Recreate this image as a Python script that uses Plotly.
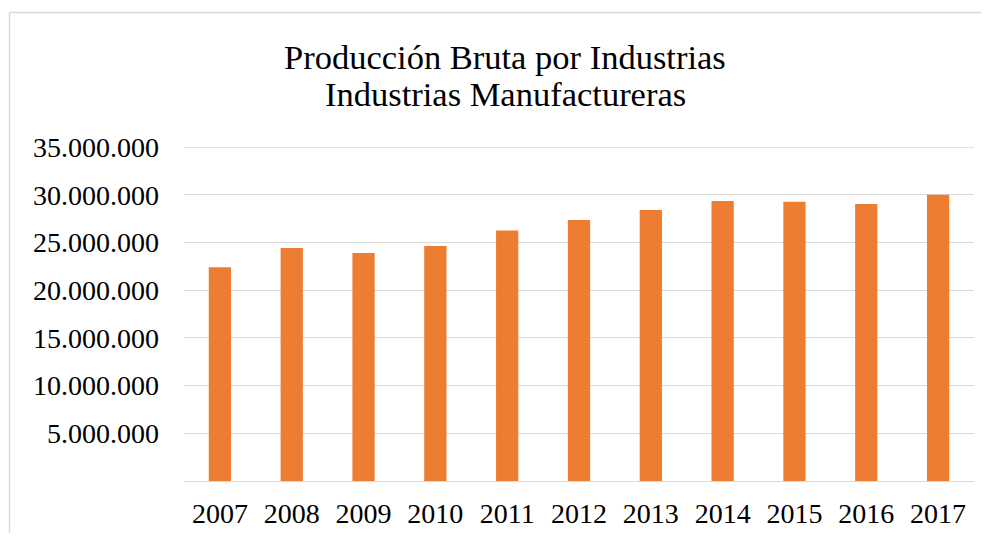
import plotly.graph_objects as go

years = ["2007", "2008", "2009", "2010", "2011", "2012", "2013", "2014", "2015", "2016", "2017"]
values = [22410000, 24410000, 23880000, 24620000, 26250000, 27340000, 28390000, 29340000, 29260000, 29020000, 30000000]
y_tickvals = [5000000, 10000000, 15000000, 20000000, 25000000, 30000000, 35000000]
y_ticktext = ["5.000.000", "10.000.000", "15.000.000", "20.000.000", "25.000.000", "30.000.000", "35.000.000"]
title_lines = ["Producción Bruta por Industrias", "Industrias Manufactureras"]

OFF = 8  # browser body margin
W, H = 989 - 2 * OFF, 541 - 2 * OFF
L, T = 184 - OFF, 147 - OFF
R = W - (974 - OFF)
B = H - (481 - OFF)
pw, ph = W - L - R, H - T - B

SERIF = "Liberation Serif, Times New Roman, serif"
GRID = "#d9d9d9"

fig = go.Figure(go.Bar(x=years, y=values, marker=dict(color="#ED7D31", line=dict(width=0))))

annotations = []
for line, mid_px in zip(title_lines, [57.5, 94.5]):
    annotations.append(dict(
        text=line, showarrow=False,
        xref="paper", yref="paper",
        x=(505 - 184) / pw, xanchor="center",
        y=(481 - mid_px) / ph, yanchor="middle",
        font=dict(size=34.5, family=SERIF, color="#000000"),
    ))

top_y = (481 - 12.5) / ph
left_x = (9.5 - 184) / pw
shapes = [
    dict(type="line", xref="paper", yref="paper", x0=left_x, x1=(W - L) / pw,
         y0=top_y, y1=top_y, line=dict(color=GRID, width=1.3), layer="below"),
    dict(type="line", xref="paper", yref="paper", x0=left_x, x1=left_x,
         y0=-B / ph, y1=top_y, line=dict(color=GRID, width=1.3), layer="below"),
    dict(type="line", xref="paper", yref="y", x0=0, x1=1,
         y0=y_tickvals[-1], y1=y_tickvals[-1], line=dict(color=GRID, width=1.3), layer="below"),
]

fig.update_layout(
    width=W, height=H,
    margin=dict(l=L, r=R, t=T, b=B, autoexpand=False),
    paper_bgcolor="white", plot_bgcolor="white",
    bargap=0.69,
    showlegend=False,
    font=dict(family=SERIF, color="#000000"),
    modebar=dict(bgcolor="rgba(0,0,0,0)", color="rgba(0,0,0,0)", activecolor="rgba(0,0,0,0)"),
    xaxis=dict(
        showgrid=False, showline=False, ticks="",
        tickfont=dict(size=28), ticklabelstandoff=13,
    ),
    yaxis=dict(
        range=[0, 35000000],
        tickvals=y_tickvals, ticktext=y_ticktext,
        showgrid=True, gridcolor=GRID, gridwidth=1.3,
        zeroline=True, zerolinecolor=GRID, zerolinewidth=1.3,
        showline=False, ticks="",
        tickfont=dict(size=28), ticklabelstandoff=24,
    ),
    annotations=annotations,
    shapes=shapes,
)

fig.write_html("out.html")
